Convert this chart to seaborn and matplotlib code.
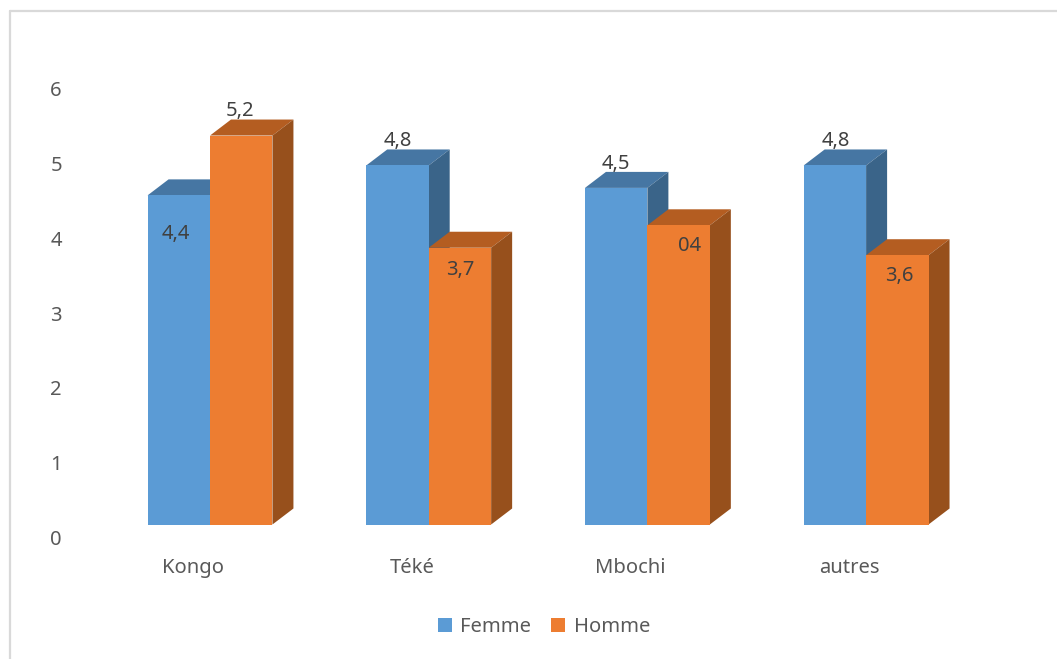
import matplotlib
matplotlib.use("Agg")
import matplotlib.pyplot as plt
import matplotlib.transforms as mtransforms
from matplotlib.lines import Line2D
from matplotlib.patches import Polygon
import pandas as pd
import seaborn as sns

# Data
groups = ["Kongo", "Téké", "Mbochi", "autres"]
femme = [4.4, 4.8, 4.5, 4.8]
homme = [5.2, 3.7, 4.0, 3.6]
femme_labels = ["4,4", "4,8", "4,5", "4,8"]
homme_labels = ["5,2", "3,7", "04", "3,6"]
y_ticks = [0, 1, 2, 3, 4, 5, 6]

# Label shift from bar centre / bar top, in pixels (right, down)
femme_shift = [(-3, 39), (0, -24), (0, -24), (1, -24)]
homme_shift = [(-1, -25), (0, 22), (11, 21), (2, 21)]

W, H = 1057, 659
font = "Noto Sans"
blue, blue_top, blue_side = "#5B9BD5", "#4676A3", "#3A6489"
orange, orange_top, orange_side = "#ED7D31", "#B45D21", "#97501C"

sns.set_theme(style="white")
plt.rcParams["font.family"] = [font, "DejaVu Sans"]

df = pd.DataFrame({
    "groupe": groups * 2,
    "valeur": femme + homme,
    "sexe": ["Femme"] * len(groups) + ["Homme"] * len(groups),
})

fig = plt.figure(figsize=(W / 100, H / 100), dpi=100)
left, right, top, bottom = 120.6, 1085.0 - 47, 60.0, 524.5
ax = fig.add_axes([left / W, 1 - bottom / H, (right - left) / W, (bottom - top) / H])

sns.barplot(data=df, x="groupe", y="valeur", hue="sexe", order=groups,
            palette={"Femme": blue, "Homme": orange}, width=0.571,
            saturation=1, linewidth=0, ax=ax)

px_cat = 218.7
px_val = 74.8
ax.set_xlim((left - 210) / px_cat, (right - 210) / px_cat)
ax.set_ylim(0, (bottom - top) / px_val)

# 3d look: side and top faces behind the front of each bar
depth_x = 21 / px_cat
depth_y = 16 / px_val
colors = [(blue_top, blue_side), (orange_top, orange_side)]
order = 2.0
for i in range(len(groups)):
    for container, (c_top, c_side) in zip(ax.containers, colors):
        bar = container[i]
        x0, x1 = bar.get_x(), bar.get_x() + bar.get_width()
        h = bar.get_height()
        ax.add_patch(Polygon([(x0, h), (x1, h), (x1 + depth_x, h + depth_y), (x0 + depth_x, h + depth_y)],
                             facecolor=c_top, edgecolor="none", zorder=order))
        ax.add_patch(Polygon([(x1, 0), (x1 + depth_x, depth_y), (x1 + depth_x, h + depth_y), (x1, h)],
                             facecolor=c_side, edgecolor="none", zorder=order))
        bar.set_zorder(order + 0.1)
        order += 0.2

# value labels
for container, labels, shifts in zip(ax.containers, [femme_labels, homme_labels], [femme_shift, homme_shift]):
    for bar, label, (sx, sy) in zip(container, labels, shifts):
        ax.annotate(label, (bar.get_x() + bar.get_width() / 2, bar.get_height()),
                    xytext=(sx * 0.72, -sy * 0.72), textcoords="offset points",
                    ha="center", va="center", fontsize=14.5, color="#404040", zorder=20)

ax.set_xlabel("")
ax.set_ylabel("")
ax.set_yticks(y_ticks)
sns.despine(ax=ax, left=True, bottom=True)
ax.tick_params(axis="y", length=0, pad=42.3, labelsize=14.5, labelcolor="#595959")
ax.tick_params(axis="x", length=0, pad=24, labelsize=14.5, labelcolor="#595959")

# tick labels sit off their ticks in the original
down = mtransforms.ScaledTranslation(0, -13 / 100, fig.dpi_scale_trans)
back = mtransforms.ScaledTranslation(-17 / 100, 0, fig.dpi_scale_trans)
for lab in ax.get_yticklabels():
    lab.set_transform(lab.get_transform() + down)
for lab in ax.get_xticklabels():
    lab.set_transform(lab.get_transform() + back)

sns.move_legend(ax, "center", bbox_to_anchor=(544 / W, 1 - 627 / H), bbox_transform=fig.transFigure,
                ncol=2, title=None, frameon=False, fontsize=14.5, labelcolor="#595959",
                handlelength=0.7, handleheight=0.7, handletextpad=0.4, columnspacing=1.0)

# chart frame, only top and left show
frame = "#D9D9D9"
fig.add_artist(Line2D([9.5 / W, 9.5 / W], [0, 1 - 10.5 / H], color=frame, lw=1.6))
fig.add_artist(Line2D([9.5 / W, 1], [1 - 10.5 / H, 1 - 10.5 / H], color=frame, lw=1.6))

plt.savefig("out.png", dpi=100)
